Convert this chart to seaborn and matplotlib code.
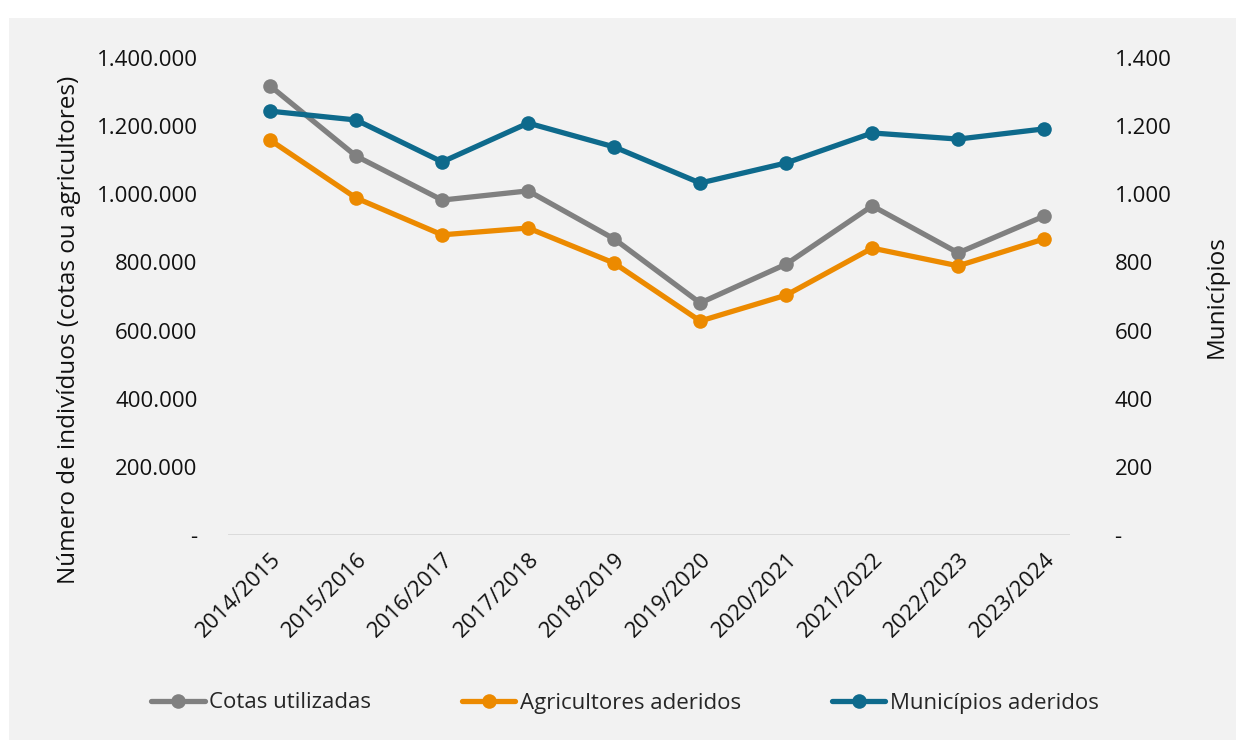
import matplotlib
matplotlib.use("Agg")
import matplotlib.pyplot as plt
import matplotlib.ticker as mticker
from matplotlib.patches import Rectangle
from matplotlib.lines import Line2D
import seaborn as sns
import pandas as pd

seasons = ["2014/2015", "2015/2016", "2016/2017", "2017/2018", "2018/2019",
           "2019/2020", "2020/2021", "2021/2022", "2022/2023", "2023/2024"]
cotas = [1318000, 1112000, 983000, 1010000, 869000, 681000, 795000, 966000, 828000, 936000]
agricultores = [1159000, 989000, 881000, 901000, 798000, 628000, 704000, 842000, 790000, 869000]
municipios = [1244, 1218, 1095, 1209, 1139, 1033, 1092, 1180, 1162, 1192]

c_gray = "#808080"
c_orange = "#EC8A00"
c_blue = "#0E6A8C"

sns.set_theme(style="white")
plt.rcParams["font.family"] = ["Open Sans", "DejaVu Sans"]

fig = plt.figure(figsize=(12.46, 7.56), dpi=100)
fig.patch.set_facecolor("white")
fig.patches.append(Rectangle((9 / 1246, 1 - 740 / 756), (1236 - 9) / 1246, (740 - 18) / 756,
                             transform=fig.transFigure, facecolor="#F2F2F2", edgecolor="none",
                             zorder=-10))

ax = fig.add_axes([228 / 1246, 1 - 535 / 756, (1070 - 228) / 1246, (535 - 58) / 756])
ax.set_facecolor("none")
ax2 = ax.twinx()
ax2.set_facecolor("none")

x = list(range(len(seasons)))
df = pd.DataFrame({"x": x, "cotas": cotas, "agr": agricultores, "mun": municipios})

lw = 3.8
ms = 10.5
sns.lineplot(data=df, x="x", y="cotas", ax=ax, color=c_gray, lw=lw, marker="o", ms=ms,
             markeredgewidth=0, zorder=3)
sns.lineplot(data=df, x="x", y="agr", ax=ax, color=c_orange, lw=lw, marker="o", ms=ms,
             markeredgewidth=0, zorder=3)
sns.lineplot(data=df, x="x", y="mun", ax=ax2, color=c_blue, lw=lw, marker="o", ms=ms,
             markeredgewidth=0, zorder=3)

ax.set_xlim(-0.49, 9.3)
ax.set_ylim(0, 1400000)
ax2.set_ylim(0, 1400)

def fmt_dot(v, pos):
    if abs(v) < 1e-9:
        return "-"
    return f"{int(round(v)):,}".replace(",", ".")

ax.yaxis.set_major_locator(mticker.MultipleLocator(200000))
ax.yaxis.set_major_formatter(mticker.FuncFormatter(fmt_dot))
ax2.yaxis.set_major_locator(mticker.MultipleLocator(200))
ax2.yaxis.set_major_formatter(mticker.FuncFormatter(fmt_dot))

ax.set_xticks(x)
ax.set_xticklabels(seasons, rotation=45, ha="right", rotation_mode="anchor")
ax.tick_params(axis="x", length=0, pad=10, labelsize=16, colors="#111111")
ax.tick_params(axis="y", length=0, pad=22, labelsize=16, colors="#111111")
ax2.tick_params(axis="y", length=0, pad=32, labelsize=16, colors="#111111")

for a in (ax, ax2):
    for s in a.spines.values():
        s.set_visible(False)
    a.grid(False)
ax.axhline(0, color="#D9D9D9", lw=2, zorder=1)

ax.set_xlabel("")
ax.set_ylabel("Número de indivíduos (cotas ou agricultores)", fontsize=17.5, color="#111111")
ax2.set_ylabel("Municípios", fontsize=17.5, color="#111111")
ax.yaxis.set_label_coords(-0.175, 0.43)
ax2.yaxis.set_label_coords(1.16, 0.5)

handles = [Line2D([], [], color=c, lw=lw, marker="o", ms=ms, markeredgewidth=0)
           for c in (c_gray, c_orange, c_blue)]
labels = ["Cotas utilizadas", "Agricultores aderidos", "Municípios aderidos"]
fig.legend(handles, labels, loc="center", bbox_to_anchor=(625 / 1246, 1 - 703 / 756), ncol=3,
           frameon=False, fontsize=16, handlelength=2.4, handletextpad=0.2, columnspacing=4.1)

fig.savefig("out.png", dpi=100, facecolor=fig.get_facecolor())
